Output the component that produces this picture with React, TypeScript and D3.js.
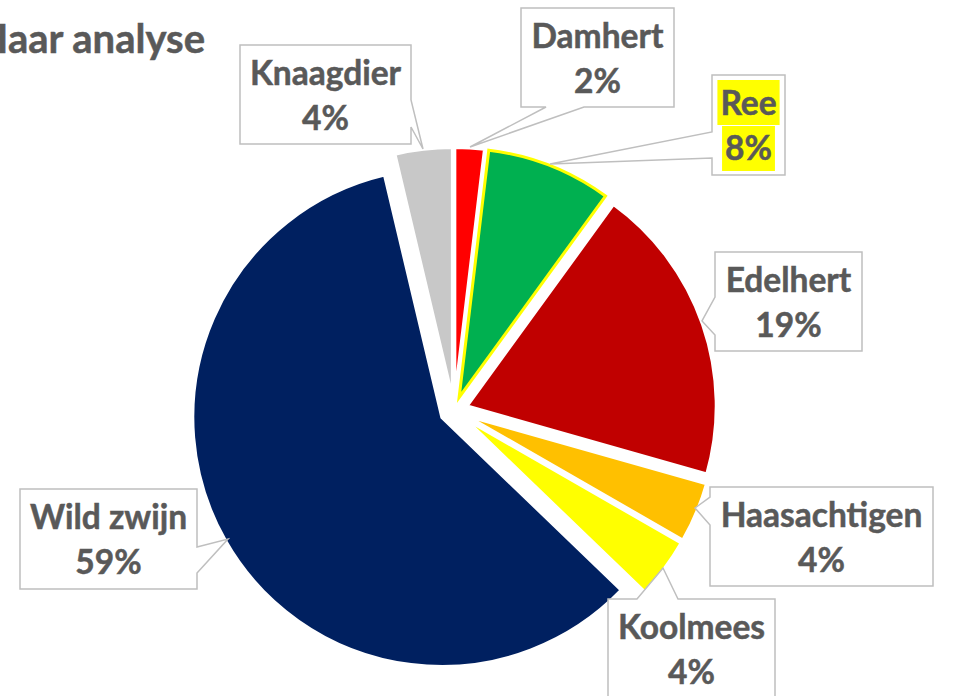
import React, { useEffect, useRef } from "react";
import * as d3 from "d3";

const categories = ["Damhert", "Ree", "Edelhert", "Haasachtigen", "Koolmees", "Wild zwijn", "Knaagdier"];
const values = [1.9, 8.1, 19.4, 3.9, 3.9, 59.1, 3.7];
const colors = ["#FF0000", "#00B050", "#C00000", "#FFC000", "#FFFF00", "#002060", "#C8C8C8"];
const title = "Haar analyse";

// callout layout: box, tail side, tail base range, tip
type Callout = { x: number; y: number; w: number; h: number; side: "left" | "right" | "top" | "bottom"; a: number; b: number; tx: number; ty: number };
const callouts: Callout[] = [
  { x: 521, y: 8, w: 153, h: 99, side: "bottom", a: 546, b: 584, tx: 470, ty: 147 },
  { x: 712, y: 75, w: 73, h: 100, side: "left", a: 132, b: 158, tx: 550, ty: 164 },
  { x: 715, y: 252, w: 147, h: 99, side: "left", a: 297, b: 335, tx: 702, ty: 321 },
  { x: 710, y: 487, w: 223, h: 99, side: "left", a: 497, b: 525, tx: 695, ty: 508 },
  { x: 608, y: 599, w: 167, h: 130, side: "top", a: 637, b: 678, tx: 663, ty: 568 },
  { x: 20, y: 489, w: 177, h: 100, side: "right", a: 547, b: 573, tx: 228, ty: 539 },
  { x: 240, y: 45, w: 171, h: 99, side: "right", a: 100, b: 127, tx: 423, ty: 149 },
];

const W = 957, H = 696;
const CX = 454, CY = 410.5, R = 249, EXPLODE = 14;
const FONT = "Lato, 'Open Sans', sans-serif";
const TXT = "#595959";

function calloutPath(c: Callout): string {
  const { x, y, w, h, side, a, b, tx, ty } = c;
  const x2 = x + w, y2 = y + h;
  if (side === "left")
    return `M${x},${y}H${x2}V${y2}H${x}V${b}L${tx},${ty}L${x},${a}Z`;
  if (side === "right")
    return `M${x},${y}H${x2}V${a}L${tx},${ty}L${x2},${b}V${y2}H${x}Z`;
  if (side === "top")
    return `M${x},${y}H${a}L${tx},${ty}L${b},${y}H${x2}V${y2}H${x}Z`;
  return `M${x},${y}H${x2}V${y2}H${b}L${tx},${ty}L${a},${y2}H${x}Z`;
}

export default function App() {
  const ref = useRef<SVGSVGElement>(null);
  useEffect(() => {
    const svg = d3.select(ref.current);
    svg.selectAll("*").remove();

    const arcs = d3.pie<number>().sort(null).value((d) => d)(values);
    const arcGen = d3.arc<d3.PieArcDatum<number>>().innerRadius(0).outerRadius(R);
    const fmt = d3.format(".0%");

    const g = svg.append("g").attr("transform", `translate(${CX},${CY})`);
    const order = arcs.map((_, i) => i).filter((i) => i !== 1).concat([1]);
    order.forEach((i) => {
      const d = arcs[i];
      const mid = (d.startAngle + d.endAngle) / 2;
      const dx = Math.sin(mid) * EXPLODE, dy = -Math.cos(mid) * EXPLODE;
      g.append("path")
        .attr("d", arcGen(d) as string)
        .attr("transform", `translate(${dx},${dy})`)
        .attr("fill", colors[i])
        .attr("stroke", i === 1 ? "#FFFF00" : "#FFFFFF")
        .attr("stroke-width", 3)
        .attr("stroke-linejoin", "miter");
    });

    // title
    svg.append("text")
      .attr("x", 205).attr("y", 53)
      .attr("text-anchor", "end")
      .attr("font-family", FONT).attr("font-weight", 700).attr("font-size", 40)
      .attr("fill", TXT)
      .attr("stroke", TXT).attr("stroke-width", 0.5)
      .text(title);

    callouts.forEach((c, i) => {
      svg.append("path")
        .attr("d", calloutPath(c))
        .attr("fill", "#FFFFFF")
        .attr("stroke", "#BFBFBF")
        .attr("stroke-width", 1.5);
      const cx = c.x + c.w / 2;
      const lines = [categories[i], fmt(values[i] / 100)];
      const hl = i === 1;
      const tg = svg.append("g");
      lines.forEach((t, k) => {
        const txt = tg.append("text")
          .attr("x", cx).attr("y", c.y + 40 + k * 45)
          .attr("text-anchor", "middle")
          .attr("font-family", FONT).attr("font-weight", 700).attr("font-size", 33.5)
          .attr("fill", TXT)
          .attr("stroke", TXT).attr("stroke-width", 0.5)
          .text(t);
        if (hl) {
          const bb = (txt.node() as SVGTextElement).getBBox();
          tg.insert("rect", "text")
            .attr("x", bb.x - 3).attr("y", c.y + 5 + k * 46)
            .attr("width", bb.width + 6).attr("height", 45)
            .attr("fill", "#FFFF00");
        }
      });
    });
  }, []);

  return (
    <svg
      ref={ref}
      width={W}
      height={H}
      style={{ position: "absolute", left: 0, top: 0, background: "#FFFFFF" }}
    />
  );
}
